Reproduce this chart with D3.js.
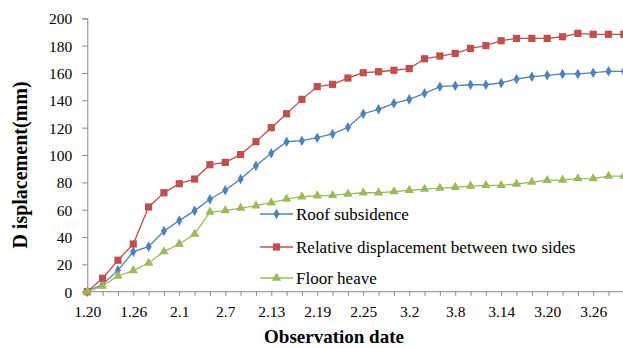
<!DOCTYPE html>
<html><head><meta charset="utf-8">
<script src="https://cdn.jsdelivr.net/npm/d3@7"></script>
<style>body{margin:0;background:#fff}svg{display:block}text{font-family:"Liberation Serif","Times New Roman",serif}</style>
</head><body><svg id="c" width="623" height="348"></svg>
<script>
const dates = ["1.20","1.22","1.24","1.26","1.28","1.30","2.1","2.3","2.5","2.7","2.9","2.11","2.13","2.15","2.17","2.19","2.21","2.23","2.25","2.27","2.29","3.2","3.4","3.6","3.8","3.10","3.12","3.14","3.16","3.18","3.20","3.22","3.24","3.26","3.28","3.30"];
const tickLabels = ["1.20","1.26","2.1","2.7","2.13","2.19","2.25","3.2","3.8","3.14","3.20","3.26"];
const roof = [0,5.4,15.6,29.3,32.9,44.4,52,59.3,67.6,74.2,82.4,92.1,101.2,109.7,110.5,112.7,115.4,120.3,130.2,133.4,137.8,140.7,145.1,150,150.7,151.4,151.4,152.7,155.6,157.3,158.3,159.3,159.3,160.2,161.2,161.2];
const relative = [0,9.8,23,34.9,62,72.4,79,82.4,92.9,94.6,100.3,109.7,120,130.2,140.7,150,151.7,156.3,160.2,160.9,162,163.2,170.4,172.4,174.3,178,180,183.6,185.3,185.3,185.3,186.5,189,188.3,188.3,188.3];
const floor = [0,4.2,11.5,15.4,21,29.3,34.9,42.2,58.3,59.3,61.2,62.9,65.1,67.8,69.5,70.2,70.5,71.5,72.4,72.4,73.2,74.2,75.1,75.8,76.4,77.3,77.8,77.8,78.8,80.2,81.5,81.7,82.7,82.7,84.6,84.6];
const yTicks = [0,20,40,60,80,100,120,140,160,180,200];
const seriesNames = ["Roof subsidence","Relative displacement between two sides","Floor heave"];

const svg = d3.select("#c");
const x0 = 87.3, step = 15.33;
const x = d3.scalePoint().domain(dates).range([x0, x0 + step*(dates.length-1)]);
const y = d3.scaleLinear().domain([0,200]).range([291.7,18.3]);
const axisColor = "#868686";

// y axis
const ya = svg.append("g").attr("transform",`translate(${x0},0)`)
  .call(d3.axisLeft(y).tickValues(yTicks).tickSize(5).tickPadding(10).tickFormat(d3.format("d")));
ya.attr("font-family",null);
ya.select(".domain").attr("stroke",axisColor);
ya.selectAll(".tick line").attr("stroke",axisColor);
ya.selectAll("text").attr("font-size","15.5px").attr("fill","#000").attr("dy","0.35em");

// x axis
const xa = svg.append("g").attr("transform",`translate(0,${y(0)})`)
  .call(d3.axisBottom(x).tickSize(4).tickPadding(10).tickFormat(d => tickLabels.includes(d) ? d : ""));
xa.attr("font-family",null);
xa.select(".domain").attr("stroke",axisColor).attr("d",`M${x0},0H640`);
xa.selectAll(".tick line").attr("stroke",axisColor);
xa.selectAll("text").attr("font-size","15.5px").attr("fill","#000");

// titles
svg.append("text").attr("transform","translate(27,165) rotate(-90)").attr("text-anchor","middle")
  .attr("font-weight","bold").attr("font-size","20px").text("D isplacement(mm)");
svg.append("text").attr("x",334).attr("y",343).attr("text-anchor","middle")
  .attr("font-weight","bold").attr("font-size","19px").text("Observation date");

const series = [
  {name:seriesNames[0], data:roof, color:"#4F81BD", sym:d3.symbolDiamond, size:32},
  {name:seriesNames[1], data:relative, color:"#C0504D", sym:d3.symbolSquare, size:52},
  {name:seriesNames[2], data:floor, color:"#9BBB59", sym:d3.symbolTriangle, size:38}
];
const line = d3.line().x((d,i)=>x(dates[i])).y(d=>y(d));
series.forEach(s=>{
  svg.append("path").datum(s.data).attr("d",line).attr("fill","none").attr("stroke",s.color).attr("stroke-width",1.3);
  svg.append("g").selectAll("path").data(s.data).join("path")
    .attr("transform",(d,i)=>`translate(${x(dates[i])},${y(d)})`)
    .attr("d",d3.symbol().type(s.sym).size(s.size)).attr("fill",s.color);
});

// legend
const ly = [214,247,278];
series.forEach((s,i)=>{
  const g = svg.append("g").attr("transform",`translate(260,${ly[i]})`);
  g.append("line").attr("x1",0).attr("x2",33).attr("stroke",s.color).attr("stroke-width",1.3);
  g.append("path").attr("transform","translate(16.5,0)").attr("d",d3.symbol().type(s.sym).size(s.size)).attr("fill",s.color);
  g.append("text").attr("x",36).attr("y",0).attr("dy","0.35em").attr("font-size","17px").text(s.name);
});
</script></body></html>
